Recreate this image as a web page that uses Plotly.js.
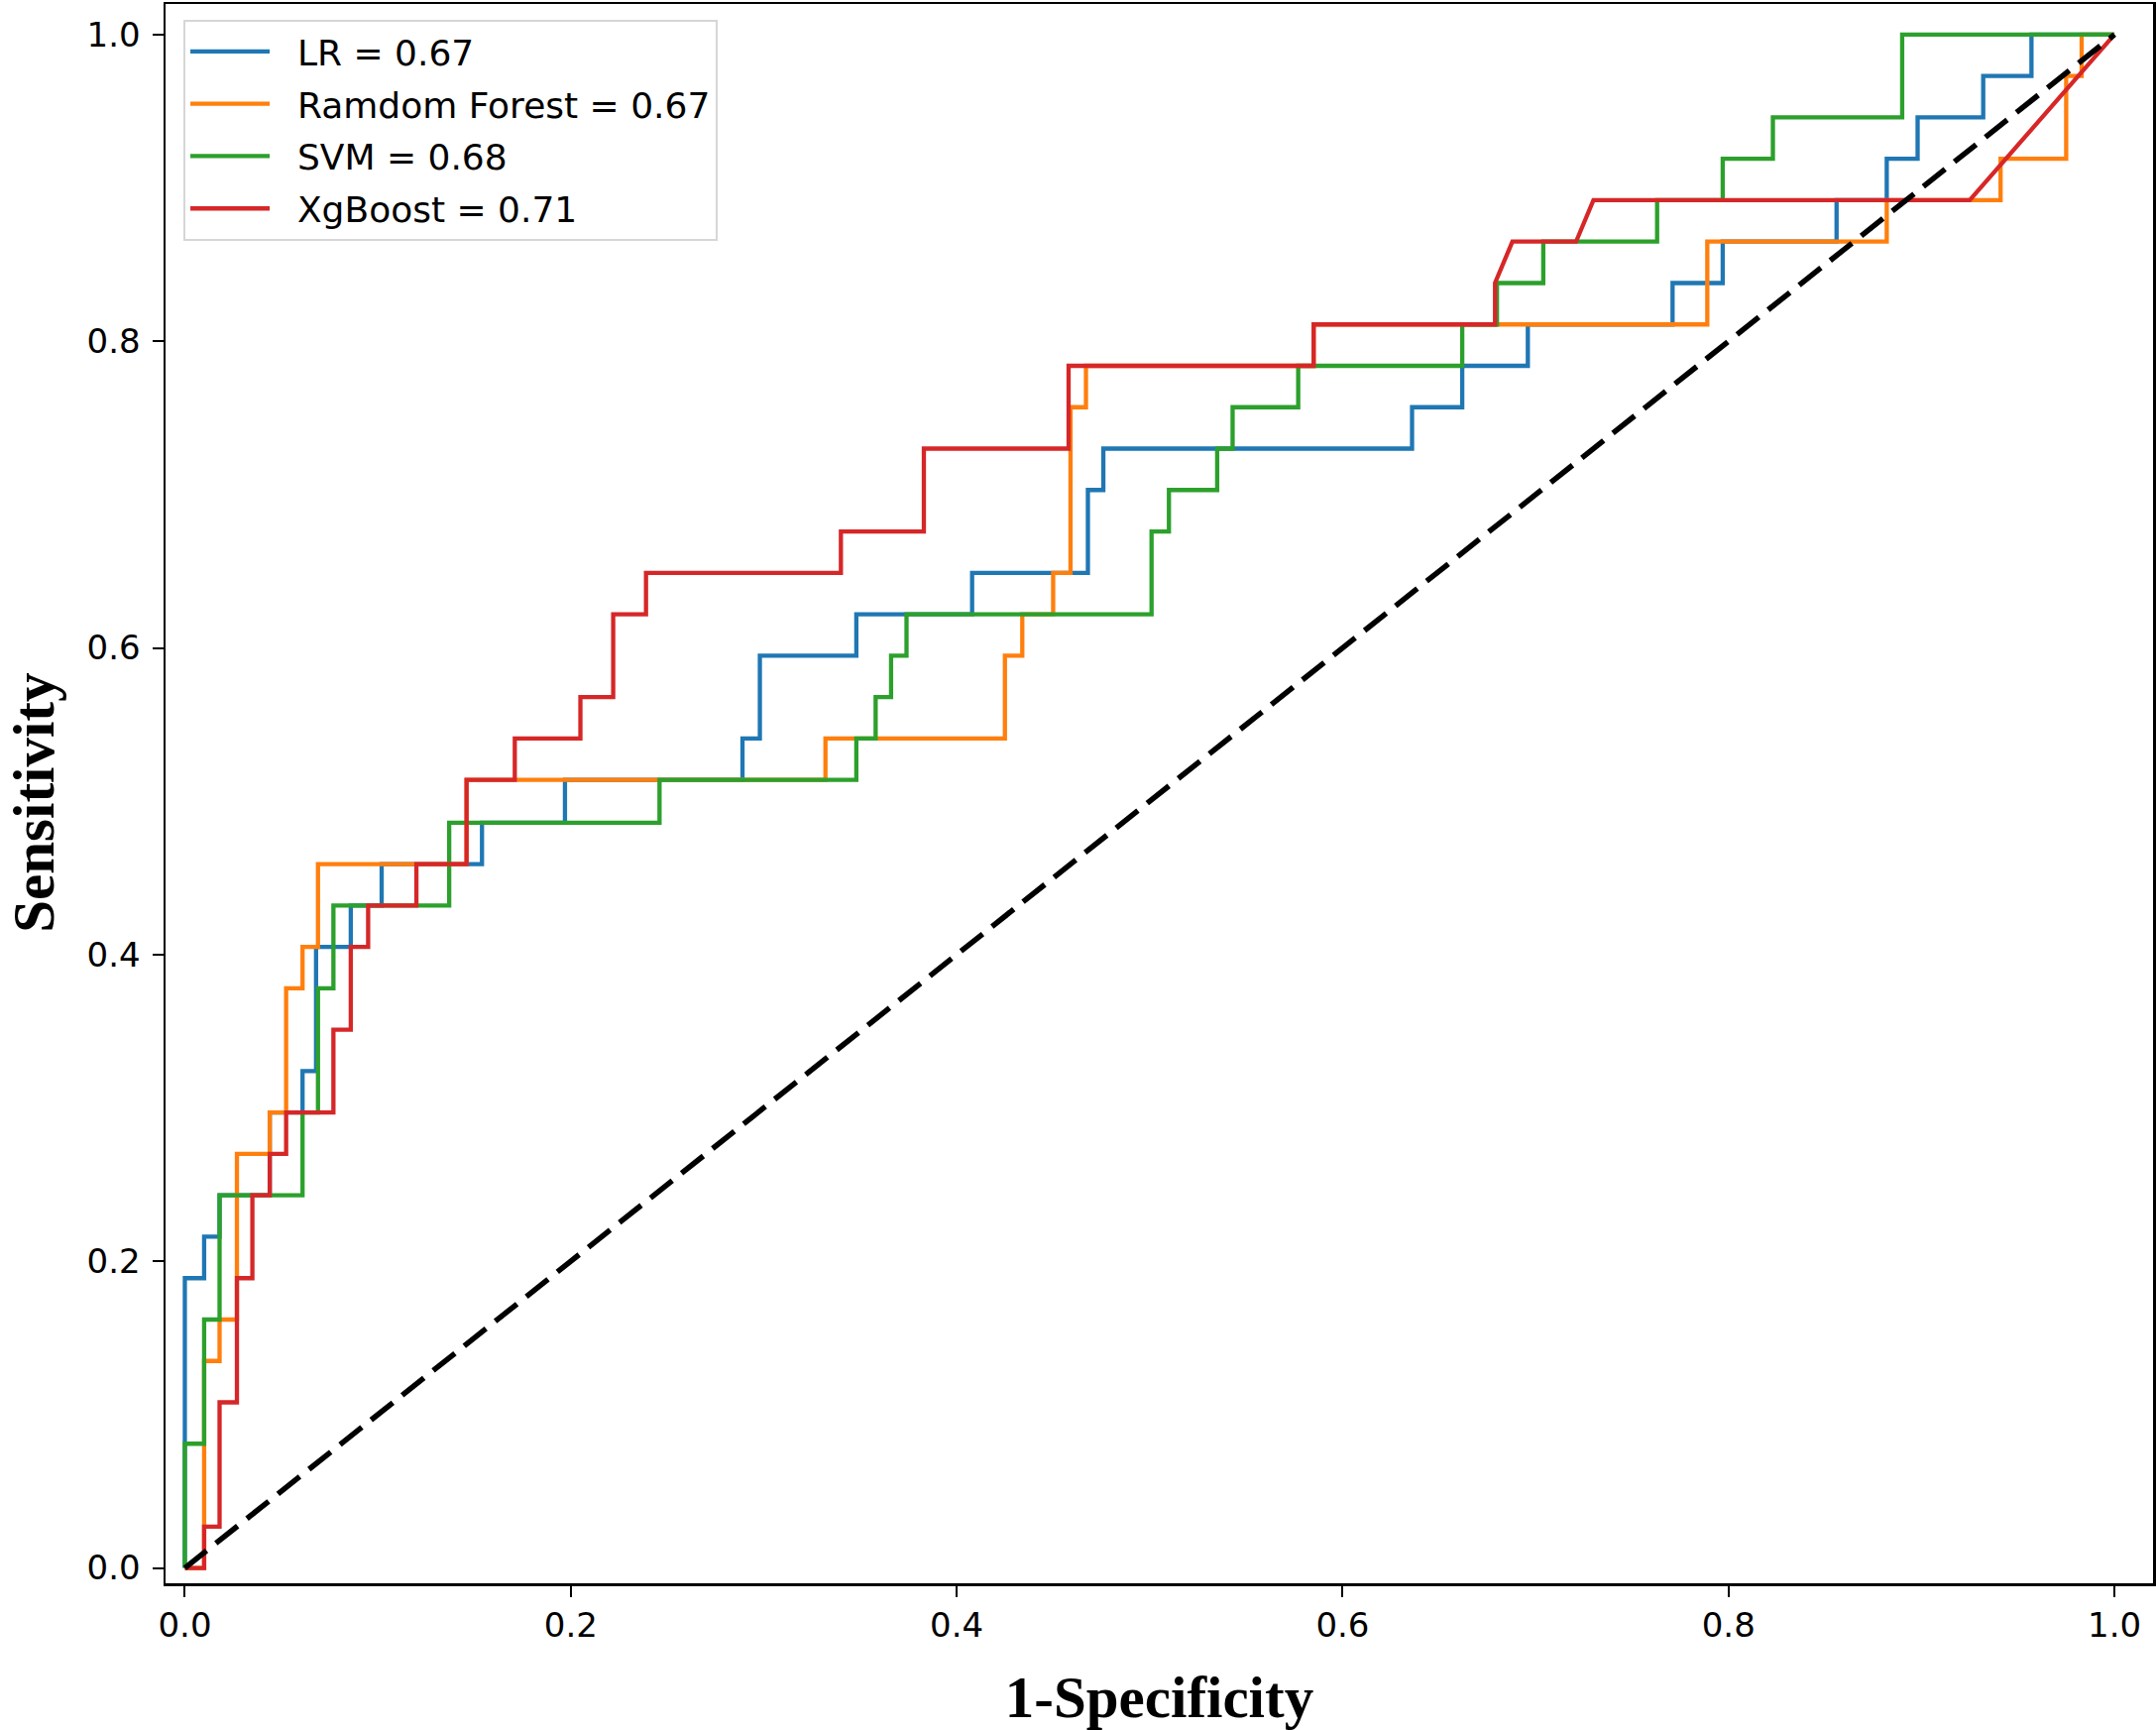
<!DOCTYPE html>
<html>
<head>
<meta charset="utf-8">
<script src="https://cdn.plot.ly/plotly-3.0.1.min.js"></script>
<style>
  html, body { margin: 0; padding: 0; background: #fff; }
  #roc { width: 2175px; height: 1745px; }
</style>
</head>
<body>
<div id="roc"></div>
<script>
// ── ROC curves (fpr / tpr vertices) ──

const lrFpr  = [0, 0, 0.010, 0.010, 0.018, 0.018, 0.044, 0.044, 0.061, 0.061, 0.068, 0.068, 0.086, 0.086,
                0.102, 0.102, 0.154, 0.154, 0.197, 0.197, 0.289, 0.289, 0.298, 0.298, 0.348, 0.348,
                0.408, 0.408, 0.468, 0.468, 0.476, 0.476, 0.636, 0.636, 0.662, 0.662, 0.696, 0.696,
                0.771, 0.771, 0.797, 0.797, 0.856, 0.856, 0.882, 0.882, 0.898, 0.898, 0.932, 0.932,
                0.957, 0.957, 1.0];
const lrTpr  = [0, 0.189, 0.189, 0.216, 0.216, 0.243, 0.243, 0.297, 0.297, 0.324, 0.324, 0.405, 0.405, 0.432,
                0.432, 0.459, 0.459, 0.486, 0.486, 0.514, 0.514, 0.541, 0.541, 0.595, 0.595, 0.622,
                0.622, 0.649, 0.649, 0.703, 0.703, 0.730, 0.730, 0.757, 0.757, 0.784, 0.784, 0.811,
                0.811, 0.838, 0.838, 0.865, 0.865, 0.892, 0.892, 0.919, 0.919, 0.946, 0.946, 0.973,
                0.973, 1.0, 1.0];

const rfFpr  = [0, 0.010, 0.010, 0.018, 0.018, 0.027, 0.027, 0.044, 0.044, 0.0525, 0.0525, 0.061, 0.061,
                0.069, 0.069, 0.146, 0.146, 0.332, 0.332, 0.425, 0.425, 0.434, 0.434, 0.450, 0.450,
                0.459, 0.459, 0.467, 0.467, 0.585, 0.585, 0.789, 0.789, 0.882, 0.882, 0.941, 0.941,
                0.975, 0.975, 0.983, 0.983, 1.0];
const rfTpr  = [0, 0, 0.135, 0.135, 0.162, 0.162, 0.270, 0.270, 0.297, 0.297, 0.378, 0.378, 0.405,
                0.405, 0.459, 0.459, 0.514, 0.514, 0.541, 0.541, 0.595, 0.595, 0.622, 0.622, 0.649,
                0.649, 0.757, 0.757, 0.784, 0.784, 0.811, 0.811, 0.865, 0.865, 0.892, 0.892, 0.919,
                0.919, 0.973, 0.973, 1.0, 1.0];

const svmFpr = [0, 0, 0.010, 0.010, 0.018, 0.018, 0.061, 0.061, 0.069, 0.069, 0.077, 0.077, 0.137, 0.137,
                0.246, 0.246, 0.348, 0.348, 0.358, 0.358, 0.366, 0.366, 0.374, 0.374, 0.501, 0.501,
                0.510, 0.510, 0.535, 0.535, 0.543, 0.543, 0.577, 0.577, 0.662, 0.662, 0.680, 0.680,
                0.704, 0.704, 0.763, 0.763, 0.797, 0.797, 0.823, 0.823, 0.890, 0.890, 1.0];
const svmTpr = [0, 0.081, 0.081, 0.162, 0.162, 0.243, 0.243, 0.297, 0.297, 0.378, 0.378, 0.432, 0.432, 0.486,
                0.486, 0.514, 0.514, 0.541, 0.541, 0.568, 0.568, 0.595, 0.595, 0.622, 0.622, 0.676,
                0.676, 0.703, 0.703, 0.730, 0.730, 0.757, 0.757, 0.784, 0.784, 0.811, 0.811, 0.838,
                0.838, 0.865, 0.865, 0.892, 0.892, 0.919, 0.919, 0.946, 0.946, 1.0, 1.0];

const xgbFpr = [0, 0.010, 0.010, 0.018, 0.018, 0.027, 0.027, 0.035, 0.035, 0.044, 0.044, 0.0525, 0.0525,
                0.077, 0.077, 0.086, 0.086, 0.095, 0.095, 0.120, 0.120, 0.146, 0.146, 0.171, 0.171,
                0.205, 0.205, 0.222, 0.222, 0.239, 0.239, 0.340, 0.340, 0.383, 0.383, 0.458, 0.458,
                0.585, 0.585, 0.679, 0.679, 0.688, 0.721, 0.730, 0.925, 1.0];
const xgbTpr = [0, 0, 0.027, 0.027, 0.108, 0.108, 0.189, 0.189, 0.243, 0.243, 0.270, 0.270, 0.297,
                0.297, 0.351, 0.351, 0.405, 0.405, 0.432, 0.432, 0.459, 0.459, 0.514, 0.514, 0.541,
                0.541, 0.568, 0.568, 0.622, 0.622, 0.649, 0.649, 0.676, 0.676, 0.730, 0.730, 0.784,
                0.784, 0.811, 0.811, 0.838, 0.865, 0.865, 0.892, 0.892, 1.0];

const modelNames = ['LR = 0.67', 'Ramdom Forest = 0.67', 'SVM = 0.68', 'XgBoost = 0.71'];
const modelColors = ['#1f77b4', '#ff7f0e', '#2ca02c', '#d62728'];
const chanceLine = [0, 1];
const tickVals = [0, 0.2, 0.4, 0.6, 0.8, 1.0];
const tickText = ['0.0', '0.2', '0.4', '0.6', '0.8', '1.0'];

const curves = [[lrFpr, lrTpr], [rfFpr, rfTpr], [svmFpr, svmTpr], [xgbFpr, xgbTpr]];

const traces = curves.map(([x, y], i) => ({
    type: 'scatter',
    mode: 'lines',
    x, y,
    name: '\u00a0\u00a0' + modelNames[i],   // hueco entre la muestra y el texto, como en matplotlib
    legendgroup: 'g' + i,
    line: { color: modelColors[i], width: 4.3 },
    hoverinfo: 'skip',
}));

// diagonal de referencia
traces.push({
    type: 'scatter',
    mode: 'lines',
    x: chanceLine, y: chanceLine,
    showlegend: false,
    line: { color: '#000000', width: 5.5, dash: '28px,12px' },
    hoverinfo: 'skip',
});

const tickFont  = { family: 'DejaVu Sans', size: 34, color: '#000' };
const titleFont = { family: 'Liberation Serif, Times New Roman, serif', size: 59, color: '#000', weight: 'bold' };

const axisBase = {
    tickmode: 'array',
    tickvals: tickVals,
    ticktext: tickText,
    ticks: 'outside',
    ticklen: 11,
    tickwidth: 2,
    tickcolor: '#000',
    tickfont: tickFont,
    showline: true,
    linecolor: '#000',
    linewidth: 2.5,
    mirror: true,
    showgrid: false,
    zeroline: false,
    automargin: false,
};

const layout = {
    width: 2175,
    height: 1745,
    paper_bgcolor: '#fff',
    plot_bgcolor: '#fff',
    margin: { l: 167, r: 3, t: 4, b: 148 },
    xaxis: Object.assign({}, axisBase, {
        range: [-0.01, 1.02],
        ticklabelstandoff: 0,
        title: { text: '<b>1-Specificity</b>', font: titleFont, standoff: 36 },
    }),
    yaxis: Object.assign({}, axisBase, {
        range: [-0.01, 1.02],
        ticklabelstandoff: 5,
        title: { text: '' },
    }),
    // el título del eje y va como anotación para poder situarlo a mano
    annotations: [{
        text: '<b>Sensitivity</b>',
        font: titleFont,
        textangle: -90,
        xref: 'paper', yref: 'paper',
        x: -0.0665, y: 0.494,
        xanchor: 'center', yanchor: 'middle',
        showarrow: false,
    }],
    legend: {
        x: 0.009, y: 0.990,
        xanchor: 'left', yanchor: 'top',
        bgcolor: '#ffffff',
        bordercolor: '#d6d6d6',
        borderwidth: 2,
        itemwidth: 80,
        tracegroupgap: 3,
        font: { family: 'DejaVu Sans', size: 36, color: '#000' },
    },
    showlegend: true,
};

Plotly.newPlot('roc', traces, layout, { displayModeBar: false, staticPlot: true });
</script>
</body>
</html>
